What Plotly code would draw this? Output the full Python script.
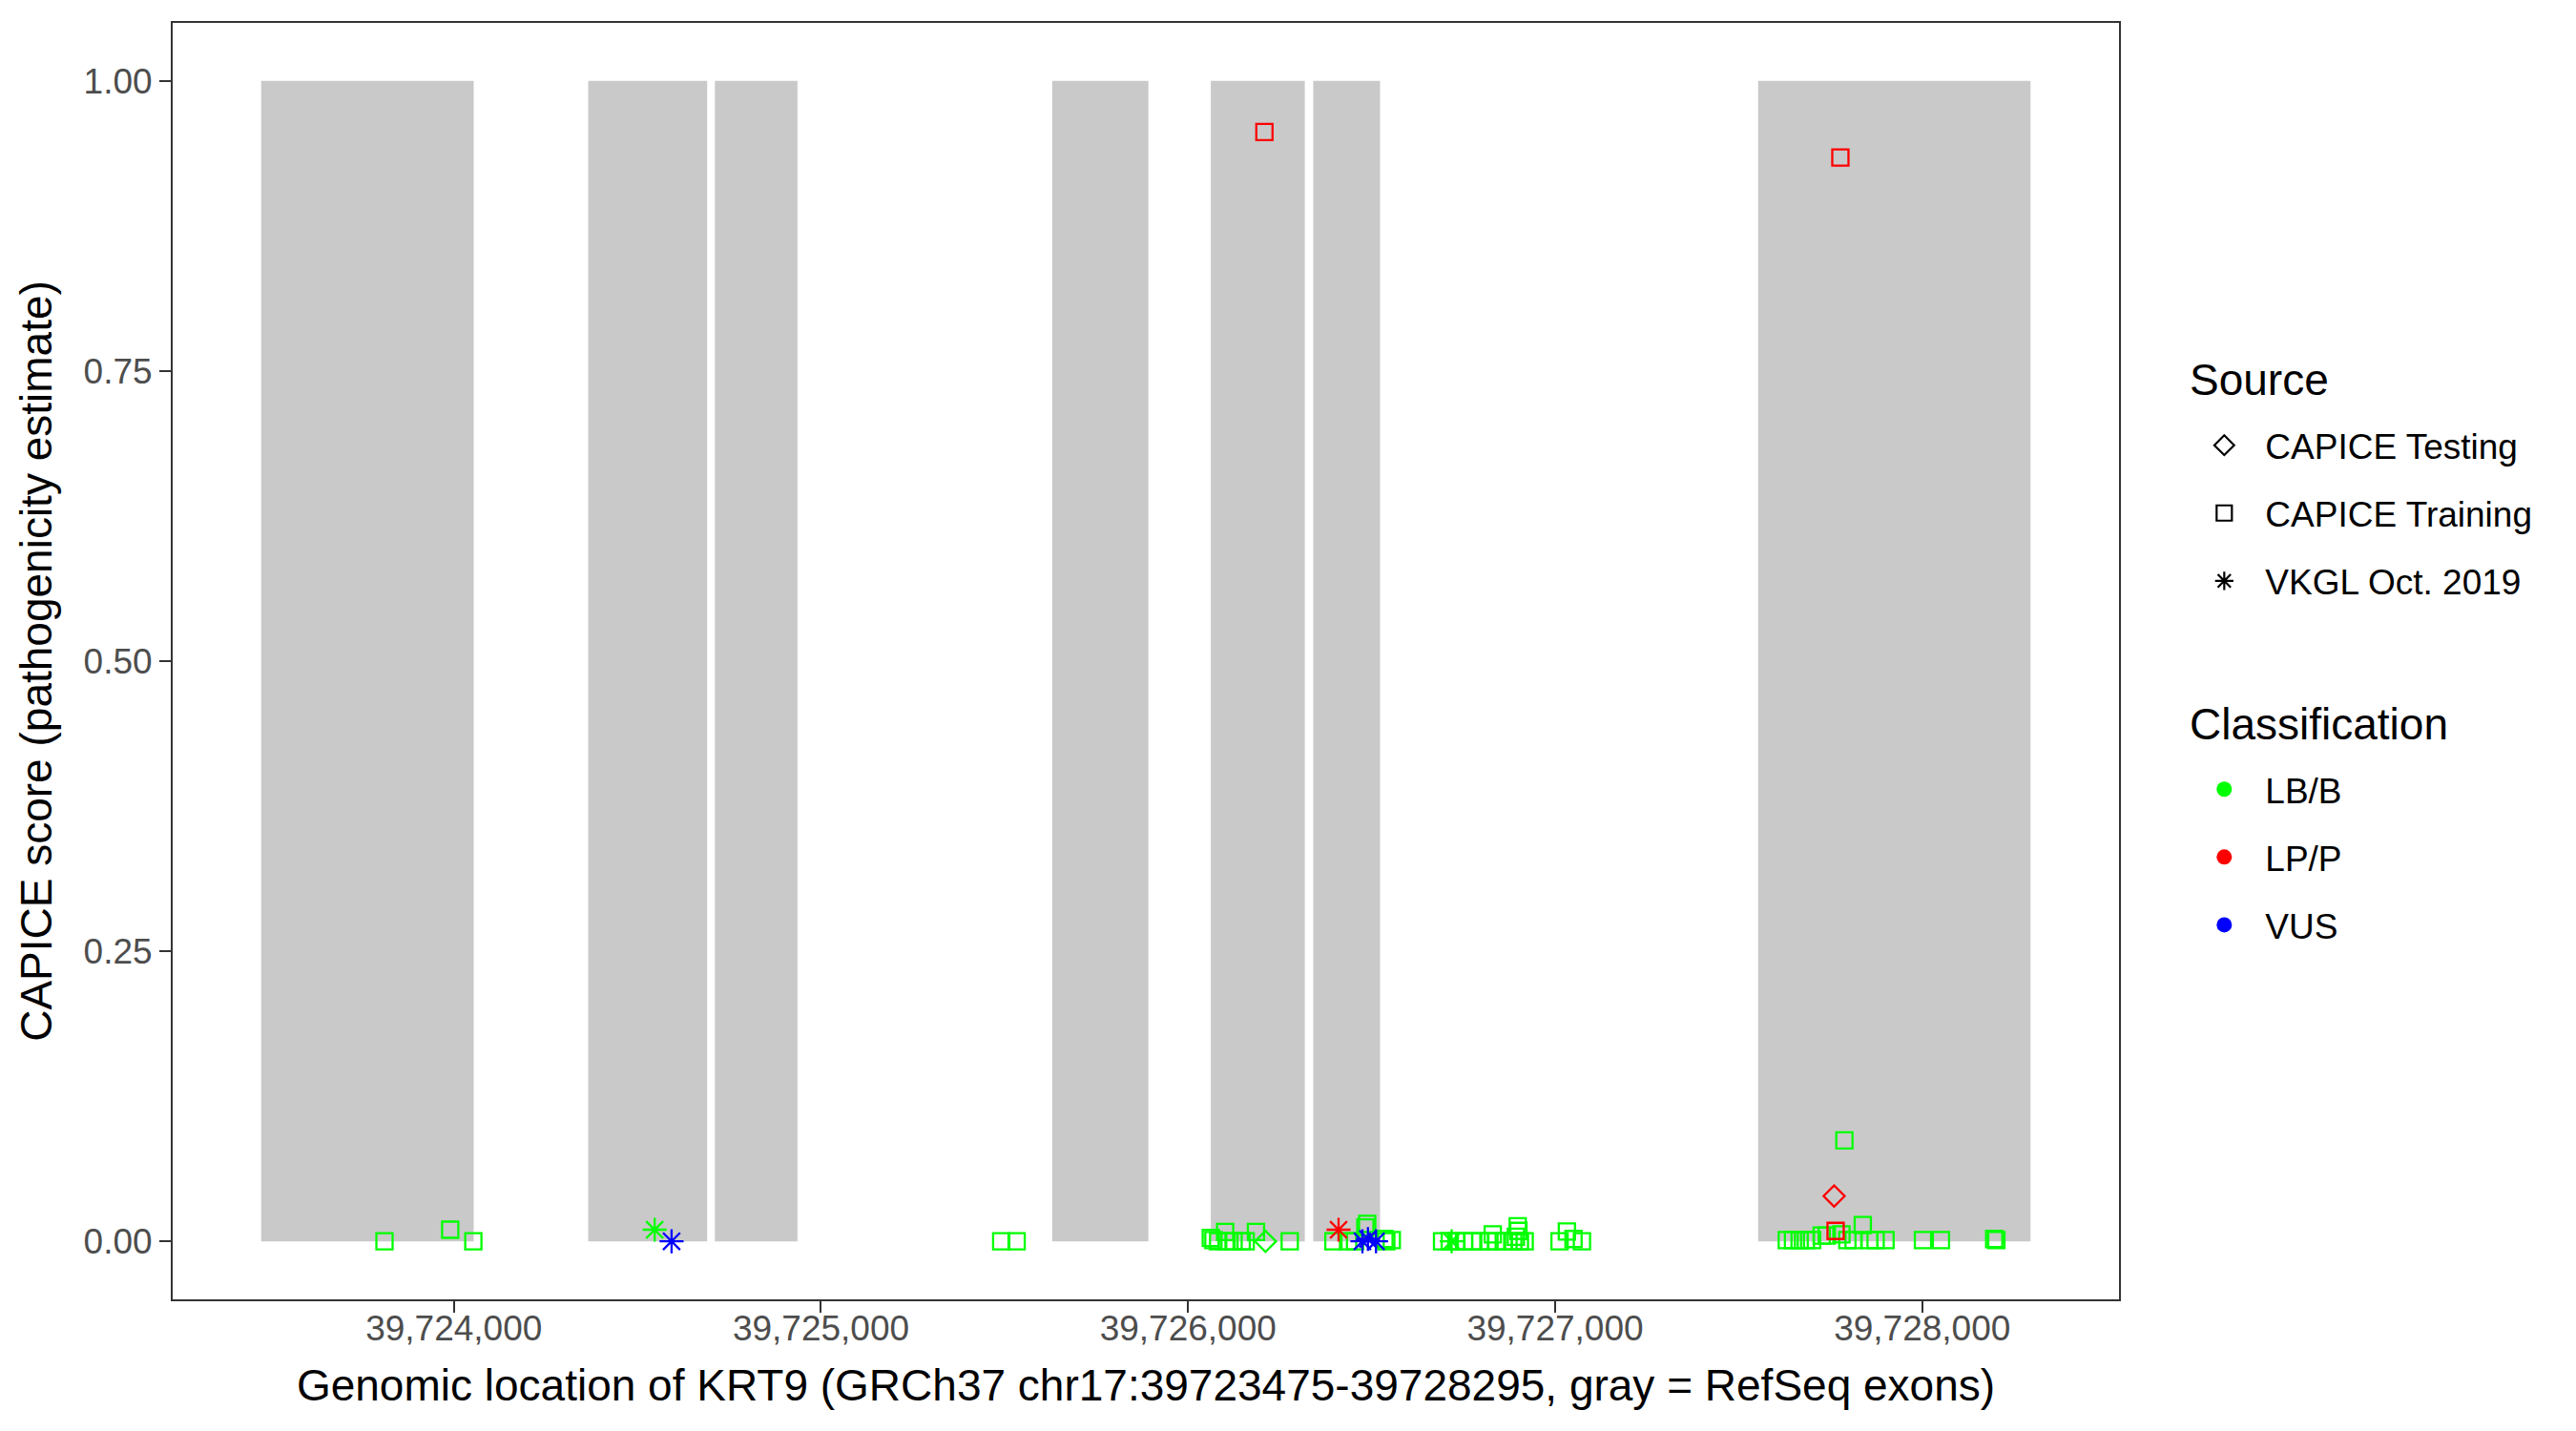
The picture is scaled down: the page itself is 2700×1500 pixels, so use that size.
import plotly.graph_objects as go

# ---------------- data ----------------
exon_starts = [39723475, 39724366, 39724711, 39725630, 39726062, 39726341, 39727553]
exon_ends   = [39724054, 39724690, 39724936, 39725892, 39726318, 39726523, 39728295]

# variants: position, CAPICE score, source, classification
positions = [
    # CAPICE Training, LB/B
    39723811, 39723990, 39724053, 39725491, 39725533,
    39726062, 39726069, 39726082, 39726101, 39726105, 39726124, 39726146, 39726157, 39726185,
    39726277, 39726396, 39726436, 39726455, 39726483, 39726488, 39726535, 39726540, 39726555,
    39726692, 39726713, 39726731, 39726752, 39726774, 39726796, 39726821, 39726830, 39726839,
    39726860, 39726886, 39726893, 39726898, 39726900, 39726904, 39726917,
    39727012, 39727032, 39727050, 39727073,
    39727631, 39727648, 39727666, 39727683, 39727700, 39727726, 39727740, 39727780, 39727788,
    39727796, 39727813, 39727838, 39727856, 39727873, 39727900, 39728002, 39728051, 39728196, 39728202,
    # CAPICE Testing, LB/B
    39726211,
    # CAPICE Training, LP/P
    39726208, 39727777, 39727764,
    # CAPICE Testing, LP/P
    39727760,
    # VKGL
    39724547, 39724593, 39726410, 39726475, 39726490, 39726512, 39726718,
]
scores = [
    0.000, 0.010, 0.000, 0.000, 0.000,
    0.003, 0.001, 0.000, 0.008, 0.000, 0.000, 0.000, 0.000, 0.008,
    0.000, 0.000, 0.000, 0.000, 0.012, 0.015, 0.002, 0.000, 0.001,
    0.000, 0.000, 0.000, 0.000, 0.000, 0.000, 0.000, 0.006, 0.000,
    0.000, 0.000, 0.004, 0.013, 0.009, 0.000, 0.000,
    0.000, 0.0085, 0.002, 0.000,
    0.001, 0.001, 0.001, 0.001, 0.001, 0.005, 0.005, 0.006, 0.087,
    0.001, 0.001, 0.014, 0.001, 0.001, 0.001, 0.001, 0.001, 0.002, 0.001,
    0.000,
    0.956, 0.934, 0.009,
    0.039,
    0.010, 0.000, 0.010, 0.000, 0.002, 0.000, 0.000,
]
sources = (["CAPICE Training"] * 62 + ["CAPICE Testing"] + ["CAPICE Training"] * 3 +
           ["CAPICE Testing"] + ["VKGL Oct. 2019"] * 7)
classes = (["LB/B"] * 63 + ["LP/P"] * 4 +
           ["LB/B", "VUS", "LP/P", "VUS", "VUS", "VUS", "LB/B"])

source_levels = ["CAPICE Testing", "CAPICE Training", "VKGL Oct. 2019"]
class_levels = ["LB/B", "LP/P", "VUS"]
legend_titles = ["Source", "Classification"]

x_ticks = [39724000, 39725000, 39726000, 39727000, 39728000]
y_ticks = [0.0, 0.25, 0.50, 0.75, 1.00]

# ---------------- styles ----------------
class_colors = {"LB/B": "#00FF00", "LP/P": "#FF0000", "VUS": "#0000FF"}
source_symbols = {"CAPICE Testing": "diamond-open", "CAPICE Training": "square-open",
                  "VKGL Oct. 2019": "asterisk-open"}
source_sizes = {"CAPICE Testing": 17, "CAPICE Training": 17, "VKGL Oct. 2019": 21}
legend_sizes = {"CAPICE Testing": 18, "CAPICE Training": 17, "VKGL Oct. 2019": 20}
FONT = "Liberation Sans, Arial, Helvetica, sans-serif"
TITLE_SIZE = 46
TEXT_SIZE = 37

fig = go.Figure()

# exons as gray rectangles
for s, e in zip(exon_starts, exon_ends):
    fig.add_shape(type="rect", xref="x", yref="y", x0=s, x1=e, y0=0, y1=1,
                  fillcolor="#C9C9C9", line_width=0, layer="below")

# data points
for src in source_levels:
    for cl in class_levels:
        xs = [p for p, so, c in zip(positions, sources, classes) if so == src and c == cl]
        ys = [v for v, so, c in zip(scores, sources, classes) if so == src and c == cl]
        if not xs:
            continue
        fig.add_trace(go.Scatter(
            x=xs, y=ys, mode="markers", showlegend=False,
            marker=dict(symbol=source_symbols[src], size=source_sizes[src],
                        color=class_colors[cl],
                        line=dict(color=class_colors[cl], width=2.3)),
            hovertemplate=src + " / " + cl + "<br>%{x}: %{y:.3f}<extra></extra>"))

# legend keys
for src in source_levels:
    fig.add_trace(go.Scatter(
        x=[None], y=[None], mode="markers", name=src, legend="legend",
        legendgroup=src,
        marker=dict(symbol=source_symbols[src], size=legend_sizes[src], color="black",
                    line=dict(color="black", width=2.2))))
for cl in class_levels:
    fig.add_trace(go.Scatter(
        x=[None], y=[None], mode="markers", name=cl, legend="legend2",
        legendgroup=cl,
        marker=dict(symbol="circle", size=19, color=class_colors[cl],
                    line=dict(width=0))))

# legend titles
for txt, ypos in zip(legend_titles, [0.7205, 0.4507]):
    fig.add_annotation(text=txt, xref="paper", yref="paper", x=1.0355, y=ypos,
                       xanchor="left", yanchor="middle", showarrow=False,
                       font=dict(family=FONT, size=TITLE_SIZE, color="black"))

axis_common = dict(
    showgrid=False, zeroline=False, showline=True, mirror=True,
    linecolor="#333333", linewidth=2,
    ticks="outside", ticklen=12, tickwidth=2, tickcolor="#333333",
    tickfont=dict(family=FONT, size=TEXT_SIZE, color="#4D4D4D"),
)

fig.update_layout(
    width=2700, height=1500,
    margin=dict(l=173, r=487, t=16, b=146),
    paper_bgcolor="white", plot_bgcolor="white",
    font=dict(family=FONT, color="black"),
    xaxis=dict(
        range=[39723234, 39728536], tickvals=x_ticks, tickformat=",d",
        ticklabelstandoff=-15,
        title=dict(text="Genomic location of KRT9 (GRCh37 chr17:39723475-39728295, gray = RefSeq exons)",
                   font=dict(family=FONT, size=TITLE_SIZE, color="black"), standoff=23),
        **axis_common),
    yaxis=dict(
        range=[-0.05, 1.05], tickvals=y_ticks, tickformat=".2f",
        title=dict(text="CAPICE score (pathogenicity estimate)",
                   font=dict(family=FONT, size=TITLE_SIZE, color="black"), standoff=18),
        **axis_common),
    legend=dict(
        x=1.033, xanchor="left", y=0.692, yanchor="top",
        font=dict(family=FONT, size=TEXT_SIZE, color="black"),
        tracegroupgap=20, itemwidth=76, bgcolor="rgba(0,0,0,0)"),
    legend2=dict(
        x=1.033, xanchor="left", y=0.4225, yanchor="top",
        font=dict(family=FONT, size=TEXT_SIZE, color="black"),
        tracegroupgap=20, itemwidth=76, bgcolor="rgba(0,0,0,0)"),
)

fig.write_html("out.html")
